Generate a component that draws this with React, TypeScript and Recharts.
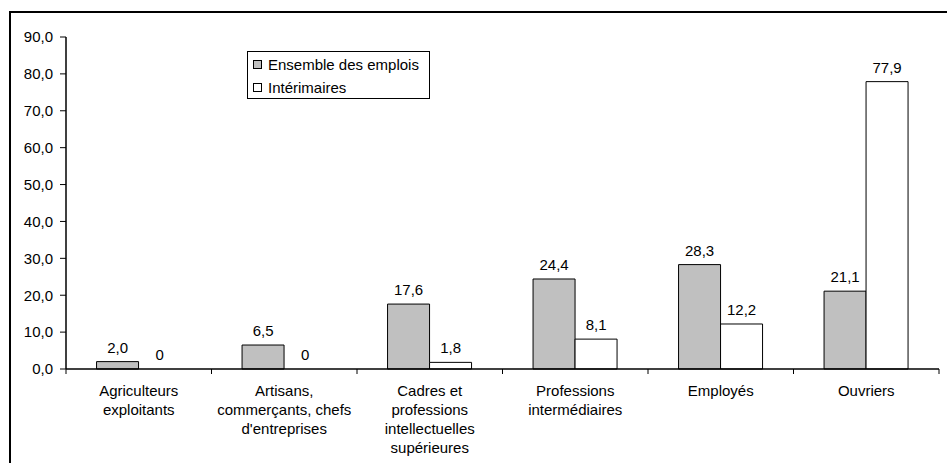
import { Bar, BarChart, LabelList, Legend, XAxis, YAxis } from 'recharts'

const categories = [
  'Agriculteurs\nexploitants',
  'Artisans,\ncommerçants, chefs\nd\'entreprises',
  'Cadres et\nprofessions\nintellectuelles\nsupérieures',
  'Professions\nintermédiaires',
  'Employés',
  'Ouvriers',
]
const ensemble = [2.0, 6.5, 17.6, 24.4, 28.3, 21.1]
const interimaires = [0, 0, 1.8, 8.1, 12.2, 77.9]
const yTicks = [0, 10, 20, 30, 40, 50, 60, 70, 80, 90]

const data = categories.map((name, i) => ({ name, ensemble: ensemble[i], interim: interimaires[i] }))

const FONT = '"Liberation Sans", Arial, sans-serif'
const W = 947
const H = 463
const LABEL_GAP = 9

const fmt = (v: number) => v.toFixed(1).replace('.', ',')
const fmtLabel = (v: any) => (Number(v) === 0 ? '0' : fmt(Number(v)))

function CategoryTick(props: any) {
  const { x, y, payload, index, visibleTicksCount } = props
  const half = payload?.offset ?? 72.8
  const lines = String(payload.value).split('\n')
  const last = index === visibleTicksCount - 1
  return (
    <g>
      <line x1={x - half} x2={x - half} y1={y} y2={y + 5} stroke="#000" />
      {last && <line x1={x + half} x2={x + half} y1={y} y2={y + 5} stroke="#000" />}
      <text x={x} y={y + 27} textAnchor="middle" fontSize={15} fontFamily={FONT} fill="#000">
        {lines.map((l, i) => (
          <tspan key={i} x={x} dy={i === 0 ? 0 : 19}>
            {l}
          </tspan>
        ))}
      </text>
    </g>
  )
}

// label for the grey bar; also writes the "0" of an empty white bar next to it,
// since recharts skips labels on zero-height bars
function EnsembleLabel(props: any) {
  const { x, y, width, height, value, index } = props
  const base = Number(y) + Number(height)
  const iv = interimaires[index]
  return (
    <g fontSize={15} fontFamily={FONT} fill="#000" textAnchor="middle">
      <text x={x + width / 2} y={y - LABEL_GAP}>{fmtLabel(value)}</text>
      {iv === 0 && <text x={x + width * 1.5} y={base - LABEL_GAP}>{fmtLabel(iv)}</text>}
    </g>
  )
}

function LegendBox(props: any) {
  const items = props.payload || []
  return (
    <div
      style={{
        border: '1px solid #000',
        background: '#fff',
        width: 181,
        height: 45,
        boxSizing: 'content-box',
        fontFamily: FONT,
        fontSize: 15,
        color: '#000',
        paddingTop: 1,
      }}
    >
      {items.map((it: any, i: number) => (
        <div key={i} style={{ display: 'flex', alignItems: 'center', height: 23, paddingLeft: 5 }}>
          <span
            style={{
              display: 'inline-block',
              width: 7,
              height: 7,
              border: '1px solid #000',
              background: it.payload?.fill ?? it.color,
              marginRight: 6,
            }}
          />
          <span>{it.value}</span>
        </div>
      ))}
    </div>
  )
}

export default function App() {
  return (
    <div style={{ position: 'absolute', left: 0, top: 0, width: W, height: H, overflow: 'hidden', background: '#fff' }}>
      <div
        style={{
          position: 'absolute',
          left: 9,
          top: 11,
          width: 1200,
          height: 1200,
          borderLeft: '2px solid #000',
          borderTop: '2px solid #000',
        }}
      />
      <div style={{ position: 'absolute', left: 0, top: 0 }}>
        <BarChart
          width={W}
          height={H}
          data={data}
          margin={{ top: 37, right: 8, left: 6, bottom: 44 }}
          barCategoryGap="21%"
          barGap={0}
        >
          <XAxis
            dataKey="name"
            interval={0}
            height={50}
            tickSize={0}
            tickMargin={0}
            tickLine={false}
            axisLine={{ stroke: '#000', strokeWidth: 1.5 }}
            tick={<CategoryTick />}
          />
          <YAxis
            width={60}
            domain={[0, 90]}
            ticks={yTicks}
            interval={0}
            tickFormatter={fmt}
            tickSize={6}
            tickMargin={7}
            axisLine={{ stroke: '#000', strokeWidth: 1.5 }}
            tickLine={{ stroke: '#000' }}
            tick={{ fill: '#000', fontSize: 15, fontFamily: FONT }}
          />
          <Legend
            layout="vertical"
            align="center"
            verticalAlign="middle"
            content={<LegendBox />}
            wrapperStyle={{ left: 247, top: 51, width: 183 }}
          />
          <Bar dataKey="ensemble" name="Ensemble des emplois" fill="#c0c0c0" stroke="#000" strokeWidth={1} isAnimationActive={false}>
            <LabelList dataKey="ensemble" content={<EnsembleLabel />} />
          </Bar>
          <Bar dataKey="interim" name="Intérimaires" fill="#ffffff" stroke="#000" strokeWidth={1} isAnimationActive={false}>
            <LabelList dataKey="interim" position="top" offset={LABEL_GAP} formatter={fmtLabel} fill="#000" fontSize={15} fontFamily={FONT} />
          </Bar>
        </BarChart>
      </div>
    </div>
  )
}
